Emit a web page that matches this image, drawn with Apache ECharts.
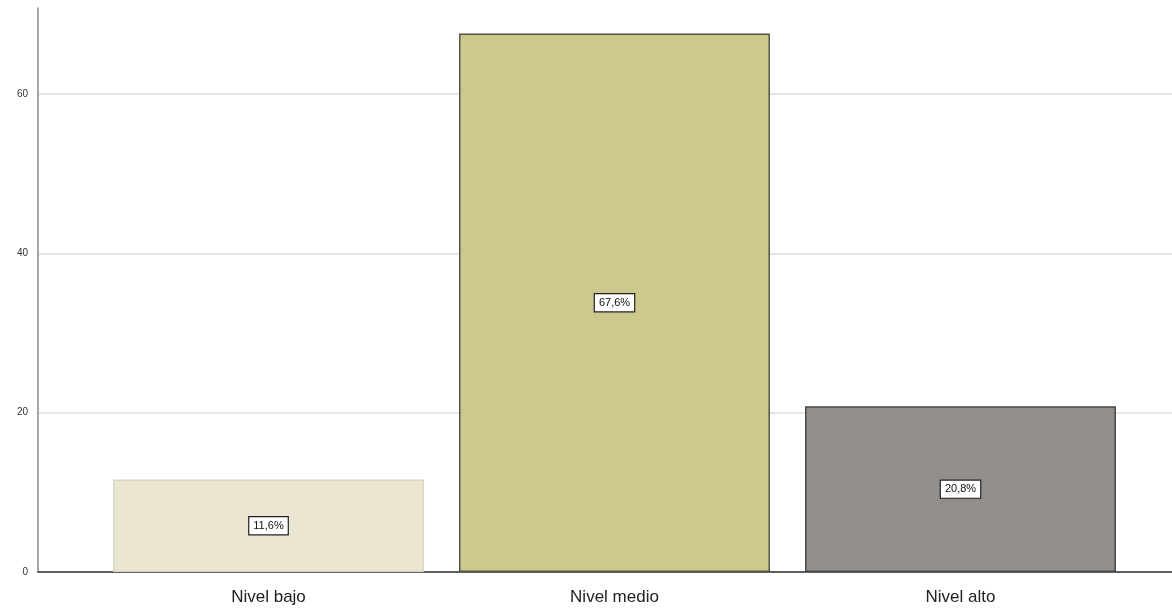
<!DOCTYPE html>
<html>
<head>
<meta charset="utf-8">
<script src="https://cdn.jsdelivr.net/npm/echarts@6/dist/echarts.min.js"></script>
<style>html,body{margin:0;padding:0;background:#fff}#c{width:1172px;height:613px}</style>
</head>
<body>
<div id="c"></div>
<script>
const categories = ['Nivel bajo', 'Nivel medio', 'Nivel alto'];
const percentValues = [11.6, 67.6, 20.8];
const percentLabels = ['11,6%', '67,6%', '20,8%'];
const yTicks = [0, 20, 40, 60];
const barColors = ['#ebe6d2', '#cdc98d', '#928e8c'];
const barBorders = ['#dcd7c2', '#555548', '#4a4a4a'];

const chart = echarts.init(document.getElementById('c'));
const yMax = 70.8;
chart.setOption({
  animation: false,
  grid: [
    {left: 38, right: 0, top: 8, bottom: 41},
    {left: 95.5, right: 38.5, top: 8, bottom: 41}
  ],
  xAxis: [
    {gridIndex: 0, type: 'value', min: 0, max: 1, show: true,
     axisLine: {show: true, onZero: false, lineStyle: {color: '#333', width: 1.5}},
     axisTick: {show: false}, axisLabel: {show: false}, splitLine: {show: false}},
    {gridIndex: 1, type: 'category', data: categories,
     axisLine: {show: false}, axisTick: {show: false},
     axisLabel: {color: '#222', fontSize: 17, fontFamily: 'Liberation Sans, Arial, sans-serif', margin: 17}}
  ],
  yAxis: [
    {gridIndex: 0, type: 'value', min: 0, max: yMax, interval: 20,
     axisLine: {show: true, lineStyle: {color: '#8a8a8a', width: 1.5}},
     axisTick: {show: false},
     axisLabel: {color: '#333', fontSize: 10, fontFamily: 'Liberation Sans, Arial, sans-serif', margin: 10,
       showMaxLabel: false,
       formatter: v => yTicks.includes(v) ? String(v) : ''},
     splitLine: {show: true, showMaxLine: false, lineStyle: {color: '#dedede', width: 1.5}}},
    {gridIndex: 1, type: 'value', min: 0, max: yMax, show: false, splitLine: {show: false}}
  ],
  series: [{
    type: 'bar',
    xAxisIndex: 1, yAxisIndex: 1,
    barWidth: 311,
    data: percentValues.map((v, i) => ({
      value: v,
      itemStyle: {color: barColors[i], borderColor: barBorders[i], borderWidth: 1.5}
    })),
    label: {
      show: true, position: 'inside',
      formatter: p => percentLabels[p.dataIndex],
      color: '#111', fontSize: 11, fontFamily: 'Liberation Sans, Arial, sans-serif',
      backgroundColor: '#fff', borderColor: '#222', borderWidth: 1.2,
      padding: [3, 4]
    }
  }]
});
</script>
</body>
</html>
